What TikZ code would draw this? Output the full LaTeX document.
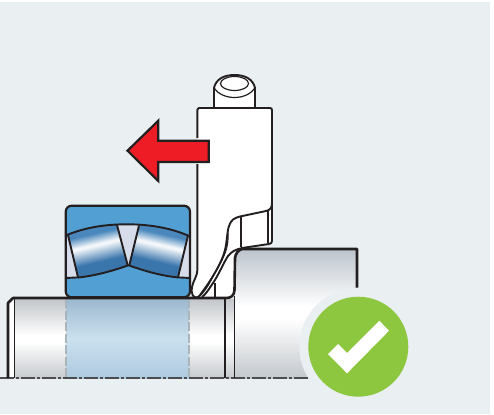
\documentclass[tikz,border=0pt]{standalone}
\definecolor{bgc}{HTML}{EAEFF2}
\definecolor{ink}{HTML}{231F20}
\definecolor{ringblue}{HTML}{519FD3}
\definecolor{lav}{HTML}{D6DCE9}
\definecolor{redarrow}{HTML}{EE1C25}
\definecolor{okgreen}{HTML}{8DC63F}
\definecolor{axisc}{HTML}{4A4C50}
\definecolor{secdash}{HTML}{A9B4BB}
\definecolor{t1}{HTML}{C2C6CA}
\definecolor{t2}{HTML}{C6CACE}
\pgfdeclareverticalshading{shaftshade}{100bp}{
 color(0bp)=(t2); color(25bp)=(t2); color(48bp)=(white); color(52bp)=(white); color(75bp)=(t1); color(100bp)=(t1)}
\definecolor{s1}{HTML}{BCC4CC}
\definecolor{s2}{HTML}{C3C8CD}
\pgfdeclareverticalshading{shouldershade}{100bp}{
 color(0bp)=(s2); color(25bp)=(s2); color(48bp)=(white); color(53bp)=(white); color(75bp)=(s1); color(100bp)=(s1)}
\definecolor{b1}{HTML}{9DB9D0}
\definecolor{b2}{HTML}{CBE0EE}
\definecolor{b3}{HTML}{AECADF}
\pgfdeclareverticalshading{sectionshade}{100bp}{
 color(0bp)=(b3); color(25bp)=(b3); color(50bp)=(b2); color(75bp)=(b1); color(100bp)=(b1)}
\definecolor{r1}{HTML}{3A75AB}
\definecolor{r2}{HTML}{F4F7FA}
\definecolor{r3}{HTML}{4A87BC}
\pgfdeclareverticalshading{rollershade}{100bp}{
 color(0bp)=(r1); color(40bp)=(r1); color(55.5bp)=(r2); color(57bp)=(r2); color(67bp)=(r3); color(100bp)=(r3)}
\tikzset{
 heavy/.style={draw=ink,line width=2.6pt,line join=round},
 medium/.style={draw=ink,line width=1.9pt,line join=round},
 fine/.style={draw=ink,line width=1.2pt,line join=round},
 ringline/.style={draw=ink,line width=1.9pt,line join=round},
 secline/.style={draw=secdash,line width=1.8pt,dash pattern=on 9pt off 2.5pt},
}
\begin{document}
\begin{tikzpicture}[x=1pt,y=-1pt]
\useasboundingbox (0,0) rectangle (494,414);
\fill[bgc] (0,2) rectangle (489.5,414);
% shaft and shoulder
\fill[white] (8,378) -- (8,303) -- (13,298) -- (15,298) -- (15,378) -- cycle;
\shade[shading=shaftshade] (15,299) rectangle (235,378);
\shade[shading=sectionshade] (66,299) rectangle (189,378);
\shade[shading=shouldershade] (235,250) rectangle (357,378);
% tool fill
\fill[white] (197.4,108) -- (272,108) -- (272,243) -- (242,247.5) -- (235,255) -- (234.5,290) .. controls (234,296) and (231,298) .. (226,298) -- (198,298) .. controls (193,298) and (191,294) .. (192,287) .. controls (193,281) and (197.4,276) .. (197.4,270) -- cycle;
\fill[white] (214,107) -- (214,88) .. controls (216,79) and (224,75) .. (234.5,75) .. controls (245,75) and (253,79) .. (255,88) -- (255,107) -- cycle;
% section edges
\draw[secline] (66,299) -- (66,378);
\draw[secline] (189,299) -- (189,378);
% axis
\coordinate (axisL) at (0,378);
\coordinate (axisR) at (312,378);
\draw[axisc,line width=1.3pt,dash pattern=on 14pt off 2pt on 3pt off 2pt] (axisL) -- (axisR);
% shaft outlines
\draw[heavy] (8,378) -- (8,303) -- (13,298) -- (226,298) .. controls (231,298) and (234,296) .. (234.5,290) -- (235,258) .. controls (235.5,254) and (238,250) .. (242,249) -- (357,249) -- (357,295);
\draw[medium] (234.5,296) -- (234.5,378);
\draw[fine] (225,299) -- (225,378);
\draw[fine] (14.7,299) -- (14.7,378);
% tool lines
\draw[medium] (197.4,138) -- (197.4,110) arc[start angle=180,end angle=270,radius=2] -- (270,108) arc[start angle=270,end angle=360,radius=2] -- (272,241) .. controls (272,243) and (271,243.5) .. (269,244) -- (242,248) .. controls (236,249.5) and (232,251) .. (228,256) .. controls (224,262) and (218,276) .. (213,283) .. controls (209,289) and (206,294) .. (202,297);
\draw[medium] (197.4,164) -- (197.4,270) .. controls (197.4,276) and (193,281) .. (192,287) .. controls (191,294) and (193,298) .. (197,297.5) .. controls (200,296.5) and (204,291) .. (208,285) .. controls (214,274) and (222,262) .. (225,250) .. controls (227,242) and (227,232) .. (229,226) .. controls (231,220) and (234,218) .. (240,216.5) -- (266,211) .. controls (270,210) and (272,208) .. (272,203);
\draw[fine] (228,233) .. controls (228.5,245) and (226,252) .. (221,262) .. controls (215,274) and (206,286) .. (199,296);
\draw[fine] (241,217) -- (241,247);
\draw[fine] (268,210.5) -- (268,243);
\draw[fine] (215,283) -- (215,298);
% pin
\draw[medium] (214,107) -- (214,88) .. controls (216,79) and (224,75) .. (234.5,75) .. controls (245,75) and (253,79) .. (255,88) -- (255,107);
\draw[fine] (214,88) .. controls (218,94) and (226,97.5) .. (234.5,97.5) .. controls (243,97.5) and (251,94) .. (255,88);
\draw[fine] (234.5,83.5) ellipse[x radius=14,y radius=7];
% bearing
\draw[ringblue,fill=ringblue,rounded corners=6pt] (65.7,205.7) rectangle (190,297.3);
\fill[lav] (67,235) -- (78,277.3) -- (65.7,278) -- cycle;
\fill[lav] (189,235) -- (178,277.3) -- (190,278) -- cycle;
\fill[lav] (117,225) -- (139,225) -- (128.5,265.3) -- cycle;
\shade[shading=rollershade,shading angle=13] (68,235) .. controls (83,229) and (100,226) .. (117,225) -- (127.7,265.3) .. controls (112,271.5) and (95,276) .. (78,277.3) -- cycle;
\shade[shading=rollershade,shading angle=-13] (139,225.5) .. controls (156,226) and (172,230) .. (188,235.5) -- (178,277.3) .. controls (160,276) and (145,271.5) .. (129.3,265.3) -- cycle;
\draw[ringline] (67,235) .. controls (85,227.5) and (105,224.3) .. (127,224.3) .. controls (148,224.3) and (170,227.5) .. (189,236);
\draw[ringline] (65.7,278) -- (80,277.3) .. controls (96,275.5) and (112,271) .. (128.5,265.3) .. controls (145,271) and (160,275.5) .. (176.7,277.3) -- (190,278);
\draw[ringline] (68,235) -- (78,277.3);
\draw[ringline] (117,225) -- (127.7,265.3);
\draw[ringline] (139,225.5) -- (129.3,265.3);
\draw[ringline] (188,235.5) -- (178,277.3);
\draw[heavy,line width=2.2pt,rounded corners=6pt] (65.7,205.7) rectangle (190,297.3);
% arrow
\draw[draw=ink,fill=redarrow,line width=2.2pt,miter limit=3,line join=miter] (127.5,150.7) -- (158.3,120.7) -- (158.3,140.7) -- (208.7,140.7) -- (208.7,162) -- (158.3,162) -- (158.3,181) -- cycle;
% badge
\node[circle,fill=bgc,minimum size=118pt,inner sep=0pt] (halo) at (358.3,346.7) {};
\node[circle,fill=okgreen,minimum size=100pt,inner sep=0pt] (badge) at (358.3,346.7) {};
\fill[white] (328,354) -- (338,344) -- (347,353) -- (379.3,320.7) -- (389,330.7) -- (347,373.3) -- cycle;
\end{tikzpicture}
\end{document}
